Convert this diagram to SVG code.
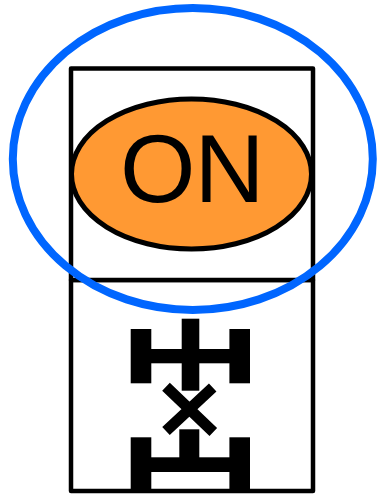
<svg xmlns="http://www.w3.org/2000/svg" width="377" height="495" viewBox="0 0 377 495">
<style>
.box{fill:#fff;stroke:#000;stroke-width:4.500;stroke-linejoin:round}
.sym{fill:#000;stroke:none}
.x{stroke:#000;stroke-width:11;fill:none}
</style>
<g id="lower-box">
<rect class="box" x="71" y="280" width="242" height="211"/>
<g id="symbol">
<rect class="sym" x="130.700" y="329" width="20.600" height="54.300"/>
<rect class="sym" x="229.400" y="329" width="20.600" height="54.300"/>
<rect class="sym" x="151" y="349" width="80" height="14.300"/>
<rect class="sym" x="181.700" y="318.700" width="17.600" height="72"/>
<path class="x" d="M166 386.700L213.300 432M212.700 387.500L166 431"/>
<rect class="sym" x="130.700" y="437.300" width="20.600" height="53"/>
<rect class="sym" x="229.400" y="437.300" width="20.600" height="53"/>
<rect class="sym" x="151" y="457.300" width="80" height="14.700"/>
<rect class="sym" x="179.300" y="429.300" width="20" height="30"/>
</g>
</g>
<g id="upper-box">
<rect class="box" x="71" y="68.500" width="242" height="211.500"/>
</g>
<g id="on-node">
<ellipse cx="191.500" cy="174" rx="120" ry="75" fill="#f93" stroke="#000" stroke-width="5"/>
<text x="120" y="201.700" font-family="'Liberation Sans',Arial,sans-serif" font-size="97" letter-spacing="-1" fill="#000">ON</text>
</g>
<g id="highlight">
<ellipse cx="192.800" cy="159" rx="180" ry="151" fill="none" stroke="#06f" stroke-width="8"/>
</g>
</svg>
